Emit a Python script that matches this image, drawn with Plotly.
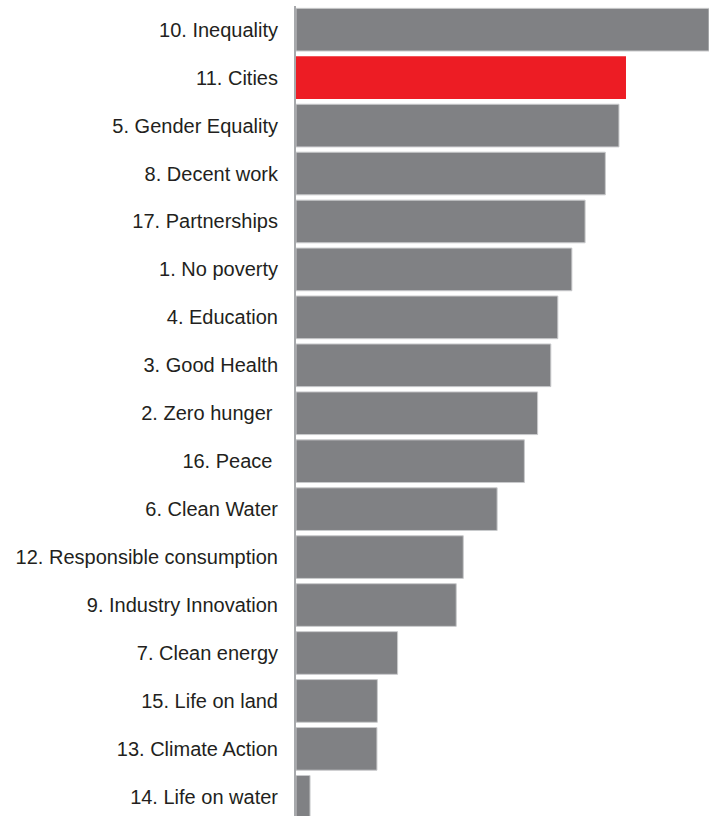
import plotly.graph_objects as go

# Sustainable Development Goals, ranked top to bottom
goals = [
    "10. Inequality", "11. Cities", "5. Gender Equality", "8. Decent work",
    "17. Partnerships", "1. No poverty", "4. Education", "3. Good Health",
    "2. Zero hunger ", "16. Peace ", "6. Clean Water",
    "12. Responsible consumption", "9. Industry Innovation", "7. Clean energy",
    "15. Life on land", "13. Climate Action", "14. Life on water",
]
scores = [100.0, 79.9, 78.2, 74.9, 70.0, 66.8, 63.4, 61.7, 58.5, 55.3,
          48.7, 40.5, 38.8, 24.6, 19.7, 19.6, 3.4]
highlight = "11. Cities"

GREY = "#808184"
RED = "#ed1c24"
colors = [RED if g == highlight else GREY for g in goals]
outline = ["rgba(0,0,0,0)" if g == highlight else "#c9cacc" for g in goals]

fig = go.Figure(
    go.Bar(
        x=scores,
        y=goals,
        orientation="h",
        marker=dict(color=colors, line=dict(color=outline, width=1)),
        hoverinfo="x+y",
    )
)

fig.update_layout(
    width=709,
    height=816,
    margin=dict(l=296, r=0, t=6, b=0),
    paper_bgcolor="white",
    plot_bgcolor="white",
    bargap=0.11,
    showlegend=False,
    font=dict(family="Liberation Sans, Arial, sans-serif", size=20, color="#231f20"),
)
fig.update_xaxes(
    range=[0, 100],
    visible=False,
    showgrid=False,
    zeroline=False,
)
fig.update_yaxes(
    type="category",
    categoryorder="array",
    categoryarray=goals,
    range=[16.4, -0.494],
    showline=True,
    linecolor="#a7a9ac",
    linewidth=2,
    showgrid=False,
    zeroline=False,
    ticks="",
    ticklabelstandoff=12,
)

fig.write_html("out.html")
